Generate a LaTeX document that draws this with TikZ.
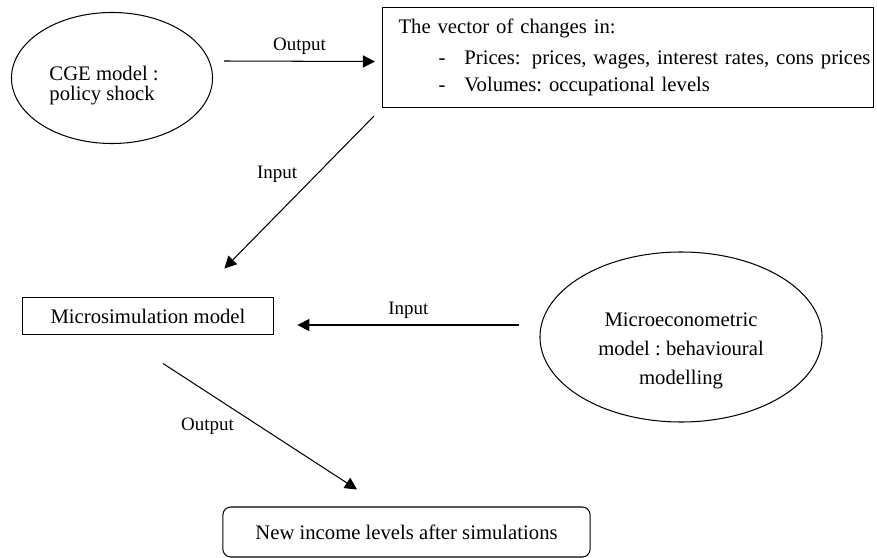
\documentclass[tikz,border=0pt]{standalone}
\usepackage{fontspec}
\setmainfont{Liberation Serif}
\usetikzlibrary{arrows.meta,shapes.geometric}
\frenchspacing

\begin{document}
\begin{tikzpicture}[x=0.58pt,y=-0.58pt,font=\fontsize{12}{14}\selectfont,
		flow/.style={-{Triangle[length=7pt,width=7pt]},line width=0.6pt},
		bubble/.style={draw,ellipse,line width=0.6pt,inner sep=0pt},
		box/.style={draw,rectangle,line width=0.6pt},
		lbl/.style={font=\fontsize{11}{13}\selectfont}]
		\useasboundingbox (0,0) rectangle (877,558);
		
		\node[bubble,minimum width=116.6pt,minimum height=76pt,
			label={[align=left,xshift=-4.6pt,yshift=-4.6pt,font=\fontsize{12}{11.6}\selectfont]center:CGE model :\\policy shock}] (cge) at (112,78) {};
		
		\node[box,anchor=north west,minimum width=284.8pt,minimum height=58pt,text width=284.8pt,inner xsep=0pt,align=left,font=\fontsize{12}{15.7}\selectfont] (vec) at (382,7) {\mbox{\hspace*{9.3pt}The vector of changes in:}\\[2.5pt]
			\mbox{\hspace*{32.5pt}-\hspace*{11pt}Prices:\hspace*{6.5pt}prices, wages, interest rates, cons prices}\\
			\mbox{\hspace*{32.5pt}-\hspace*{11pt}Volumes: occupational levels}};
		
		\node[box,minimum width=146pt,minimum height=22pt] (micro) at (148,316) {Microsimulation model};
		
		\node[bubble,minimum width=163.6pt,minimum height=98.6pt,
			label={[align=center,yshift=-8pt,font=\fontsize{12}{16.8}\selectfont]center:Microeconometric\\model : behavioural\\modelling}] (econ) at (681,337) {};
		
		\node[box,rounded corners=4.6pt,minimum width=213pt,minimum height=29pt] (income) at (406.5,532) {New income levels after simulations};
		
		\draw[flow] ([shift={(11,-17)}]cge.east) -- node[lbl,above]{Output} ([shift={(-7,4)}]vec.west);
		\draw[flow] ([shift={(-8,8)}]vec.south west) -- node[lbl,pos=.38,left=8pt]{Input} ([shift={(-50,-28)}]micro.north east);
		\draw[flow] ([shift={(-20,-12)}]econ.west) -- node[lbl,above]{Input} ([shift={(23,9)}]micro.east);
		\draw[flow] ([shift={(15,28)}]micro.south) -- node[lbl,pos=.5,left=11.5pt]{Output} ([shift={(-49.5,-17)}]income.north);
	\end{tikzpicture}
\end{document}
